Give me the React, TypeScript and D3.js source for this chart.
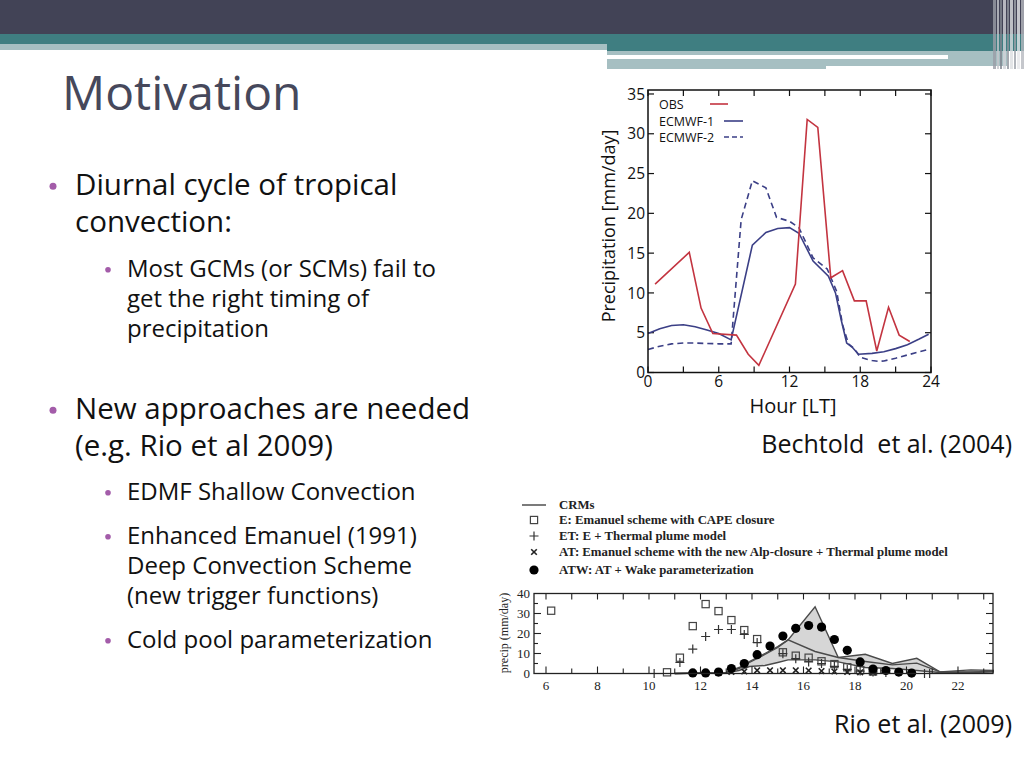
import { useEffect, useRef } from "react";
import * as d3 from "d3";

// --- Bechtold et al. (2004): diurnal precipitation, hour [LT] vs mm/day ---
const obsHours = [0.6, 3.5, 4.5, 5.5, 7.5, 8.5, 9.4, 12.5, 13.5, 14.4, 15.5, 16.5, 17.5, 18.5, 19.4, 20.4, 21.3, 22.2];
const obsPrecip = [11.1, 15.1, 8.1, 4.9, 4.7, 2.3, 0.9, 11.1, 31.8, 30.8, 11.9, 12.8, 9.0, 9.0, 2.7, 8.2, 4.7, 3.9];

const ecmwf1Hours = [0, 1, 2, 3, 4, 5, 6, 7.05, 8.85, 10, 11, 12, 12.8, 14, 15.3, 15.9, 16.4, 16.85, 17.3, 17.85, 19, 20, 21, 22, 23, 23.8];
const ecmwf1Precip = [4.9, 5.5, 5.9, 6.0, 5.75, 5.35, 4.9, 4.1, 16.0, 17.6, 18.1, 18.2, 17.5, 14.0, 12.1, 10.0, 6.5, 3.7, 3.2, 2.3, 2.4, 2.6, 3.0, 3.5, 4.2, 4.8];

const ecmwf2Hours = [0, 1, 2, 3, 4, 5, 6, 7.05, 7.9, 8.85, 10, 10.9, 12, 12.8, 14, 15.2, 16, 16.5, 17, 17.5, 18, 19, 19.5, 20, 21, 22, 23, 23.8];
const ecmwf2Precip = [2.9, 3.3, 3.6, 3.7, 3.7, 3.65, 3.6, 3.6, 19.2, 24.1, 23.2, 19.5, 19.0, 18.2, 14.4, 13.0, 10.2, 6.0, 3.6, 3.0, 1.9, 1.5, 1.4, 1.45, 1.8, 2.2, 2.6, 2.9];

const topXTicks = [0, 6, 12, 18, 24];
const topXMinor = [3, 9, 15, 21];
const topYTicks = [0, 5, 10, 15, 20, 25, 30, 35];
const topLegend = ["OBS", "ECMWF-1", "ECMWF-2"];

// --- Rio et al. (2009): precip (mm/day) vs hour ---
const crmHours = [11, 13, 13.5, 13.9, 14.5, 15, 15.4, 16.45, 17.35, 18.4, 19.45, 20.4, 21.3, 22.5, 23.4];
const crmUpper = [0, 0.5, 3, 6, 10, 13.5, 16.8, 33.4, 8, 9.6, 5, 7.6, 0.8, 1.8, 1.5];
const crmMiddle = [0, 0.5, 2.5, 5.5, 9.5, 13, 16.8, 11, 8, 6, 4.3, 5.2, 0.8, 0.8, 1];
const crmLower = [0, 0.3, 1.5, 3.5, 4, 5.5, 6.8, 6.8, 5.8, 3, 2.5, 1.5, 0.5, 0.5, 0.8];

const eHours = [6.2, 10.7, 11.2, 11.7, 12.2, 12.7, 13.2, 13.7, 14.2, 15.2, 15.7, 16.2, 16.7, 17.2, 17.7, 18.2, 18.7];
const ePrecip = [31.4, 0.6, 7.9, 23.7, 34.7, 31.2, 26.7, 21.7, 17.2, 10.6, 8.9, 7.9, 6.1, 4.7, 3.1, 1.7, 1.0];

const etHours = [10.2, 11.2, 11.7, 12.2, 12.7, 13.2, 13.7, 14.2, 15.2, 15.7, 16.2, 16.7, 17.2, 17.7, 18.2, 18.7, 19.2, 20.7, 20.9];
const etPrecip = [0, 5.5, 12.2, 18.5, 22, 22, 19.5, 15.5, 9.9, 7.4, 5.8, 5, 3.6, 2.1, 1.2, 0.8, 0.5, 0, 0];

const atHours = [12.7, 13.2, 13.7, 14.2, 14.7, 15.2, 15.7, 16.2, 16.7, 17.2, 17.7, 18.2, 18.7];
const atPrecip = [0.3, 0.8, 1.0, 1.6, 1.6, 1.6, 1.6, 1.5, 1.2, 1.0, 0.8, 0.6, 0.5];

const atwHours = [11.7, 12.2, 12.7, 13.2, 13.7, 14.2, 14.7, 15.2, 15.7, 16.2, 16.7, 17.2, 17.7, 18.2, 18.7, 19.2, 19.7, 20.2];
const atwPrecip = [0.3, 0.3, 0.7, 2.5, 5, 9.4, 13.7, 18.7, 22.6, 24, 23.2, 17, 11.6, 5.8, 2.2, 1.5, 0.7, 0.2];

const bottomXTicks = [6, 8, 10, 12, 14, 16, 18, 20, 22];
const bottomYTicks = [0, 10, 20, 30, 40];
const bottomLegend = [
  "CRMs",
  "E: Emanuel scheme with CAPE closure",
  "ET: E + Thermal plume model",
  "AT: Emanuel scheme with the new Alp-closure + Thermal plume model",
  "ATW: AT + Wake parameterization",
];

// --- slide text ---
const bullets: { text: string[]; level: number }[] = [
  { text: ["Diurnal cycle of tropical", "convection:"], level: 1 },
  { text: ["Most GCMs (or SCMs) fail to", "get the right timing of", "precipitation"], level: 2 },
  { text: ["New approaches are needed", "(e.g. Rio et al 2009)"], level: 1 },
  { text: ["EDMF Shallow Convection"], level: 2 },
  { text: ["Enhanced Emanuel (1991)", "Deep Convection Scheme", "(new trigger functions)"], level: 2 },
  { text: ["Cold pool parameterization"], level: 2 },
];
const bulletTops = [195, 277, 419, 500, 544, 648];

const SANS = "'Open Sans', 'DejaVu Sans', sans-serif";
const SERIF = "'Liberation Serif', 'DejaVu Serif', serif";

export default function App() {
  const svgRef = useRef<SVGSVGElement>(null);

  useEffect(() => {
    const svg = d3.select(svgRef.current);
    svg.selectAll("*").remove();

    svg.append("rect").attr("width", 1024).attr("height", 768).attr("fill", "#ffffff");

    // header bands
    const dark = "#424356";
    const teal = "#3f7e81";
    const pale = "#a6bfc2";
    const hdr = svg.append("g");
    hdr.append("rect").attr("x", 0).attr("y", 0).attr("width", 1024).attr("height", 34).attr("fill", dark);
    hdr.append("rect").attr("x", 0).attr("y", 34).attr("width", 1024).attr("height", 10).attr("fill", teal);
    hdr.append("rect").attr("x", 0).attr("y", 44).attr("width", 607).attr("height", 6).attr("fill", pale);
    hdr.append("rect").attr("x", 607).attr("y", 44).attr("width", 417).attr("height", 7).attr("fill", teal);
    hdr.append("rect").attr("x", 607).attr("y", 51).attr("width", 400).attr("height", 4).attr("fill", pale);
    hdr.append("rect").attr("x", 948).attr("y", 55).attr("width", 59).attr("height", 4).attr("fill", pale);
    hdr.append("rect").attr("x", 607).attr("y", 59).attr("width", 219).attr("height", 10).attr("fill", pale);
    hdr.append("rect").attr("x", 826).attr("y", 59).attr("width", 181).attr("height", 7).attr("fill", pale);
    const stripes = [
      [993, 3, "#9a9ea6"], [997, 2, "#c4c7cc"], [1000, 2, "#80858f"], [1003, 3, "#d3d5d9"],
      [1007, 2, "#8e939c"], [1010, 3, "#dcdee1"], [1014, 2, "#9ea2aa"], [1017, 3, "#e6e7ea"],
      [1021, 3, "#b6b9bf"],
    ] as const;
    stripes.forEach(([x, w, c]) => {
      hdr.append("rect").attr("x", x).attr("y", 0).attr("width", w).attr("height", 69).attr("fill", c).attr("opacity", 0.8);
    });

    // title
    svg.append("text").attr("x", 62).attr("y", 110)
      .attr("font-family", SANS).attr("font-size", 48).attr("fill", "#46485b")
      .text("Motivation");

    // bullets
    bullets.forEach((b, i) => {
      const fs = b.level === 1 ? 29.5 : 24;
      const lh = b.level === 1 ? 37 : 30;
      const tx = b.level === 1 ? 75 : 127;
      const bx = b.level === 1 ? 53 : 108;
      const y0 = bulletTops[i];
      svg.append("circle").attr("cx", bx).attr("cy", y0 - fs * 0.3)
        .attr("r", b.level === 1 ? 3.5 : 2.8).attr("fill", "#a35ca9");
      b.text.forEach((line, j) => {
        svg.append("text").attr("x", tx).attr("y", y0 + j * lh)
          .attr("font-family", SANS).attr("font-size", fs).attr("fill", "#111111")
          .text(line);
      });
    });

    // captions
    svg.append("text").attr("x", 1012).attr("y", 453).attr("text-anchor", "end")
      .attr("font-family", SANS).attr("font-size", 25).attr("fill", "#111").attr("xml:space", "preserve")
      .text("Bechtold  et al. (2004)");
    svg.append("text").attr("x", 1012).attr("y", 733).attr("text-anchor", "end")
      .attr("font-family", SANS).attr("font-size", 25).attr("fill", "#111")
      .text("Rio et al. (2009)");

    // ===== top chart =====
    const tx = d3.scaleLinear().domain([0, 24]).range([648, 931]);
    const ty = d3.scaleLinear().domain([0, 35.5]).range([372.5, 90]);
    const top = svg.append("g");

    const tickLen = 6;
    topYTicks.forEach((v) => {
      top.append("line").attr("x1", tx(0)).attr("x2", tx(0) + tickLen).attr("y1", ty(v)).attr("y2", ty(v))
        .attr("stroke", "#111").attr("stroke-width", 1.2);
      top.append("line").attr("x1", tx(24)).attr("x2", tx(24) - tickLen).attr("y1", ty(v)).attr("y2", ty(v))
        .attr("stroke", "#111").attr("stroke-width", 1.2);
      top.append("text").attr("x", tx(0) - 3).attr("y", ty(v)).attr("dy", "0.36em")
        .attr("text-anchor", "end").attr("font-family", SANS).attr("font-size", 15.5).attr("fill", "#111")
        .text(v);
    });
    [...topXTicks, ...topXMinor].forEach((h) => {
      top.append("line").attr("x1", tx(h)).attr("x2", tx(h)).attr("y1", ty(0)).attr("y2", ty(0) - tickLen)
        .attr("stroke", "#111").attr("stroke-width", 1.2);
      top.append("line").attr("x1", tx(h)).attr("x2", tx(h)).attr("y1", 90).attr("y2", 90 + tickLen)
        .attr("stroke", "#111").attr("stroke-width", 1.2);
    });
    topXTicks.forEach((h) => {
      top.append("text").attr("x", tx(h)).attr("y", 387).attr("text-anchor", "middle")
        .attr("font-family", SANS).attr("font-size", 15.5).attr("fill", "#111").text(h);
    });

    const lineOf = (hours: number[], vals: number[]) =>
      d3.line<number>().x((_, i) => tx(hours[i])).y((d) => ty(d))(vals);

    top.append("path").attr("d", lineOf(ecmwf2Hours, ecmwf2Precip)).attr("fill", "none")
      .attr("stroke", "#3b3f86").attr("stroke-width", 1.6).attr("stroke-dasharray", "6,4");
    top.append("path").attr("d", lineOf(ecmwf1Hours, ecmwf1Precip)).attr("fill", "none")
      .attr("stroke", "#3b3f86").attr("stroke-width", 1.6);
    top.append("path").attr("d", lineOf(obsHours, obsPrecip)).attr("fill", "none")
      .attr("stroke", "#c33440").attr("stroke-width", 1.6);

    top.append("rect").attr("x", tx(0)).attr("y", 90).attr("width", tx(24) - tx(0)).attr("height", ty(0) - 90)
      .attr("fill", "none").attr("stroke", "#111").attr("stroke-width", 1.5);

    // legend
    const legY = [104, 121, 137];
    const legStyle = [
      { c: "#c33440", d: null, x1: 710, x2: 728 },
      { c: "#3b3f86", d: null, x1: 724, x2: 743 },
      { c: "#3b3f86", d: "5,3", x1: 724, x2: 743 },
    ];
    topLegend.forEach((name, i) => {
      top.append("text").attr("x", 659).attr("y", legY[i]).attr("dy", "0.36em")
        .attr("font-family", SANS).attr("font-size", 12.5).attr("fill", "#111").text(name);
      top.append("line").attr("x1", legStyle[i].x1).attr("x2", legStyle[i].x2)
        .attr("y1", legY[i]).attr("y2", legY[i]).attr("stroke", legStyle[i].c).attr("stroke-width", 1.6)
        .attr("stroke-dasharray", legStyle[i].d);
    });

    top.append("text").attr("transform", "translate(615,226) rotate(-90)").attr("text-anchor", "middle")
      .attr("font-family", SANS).attr("font-size", 18).attr("fill", "#111").text("Precipitation [mm/day]");
    top.append("text").attr("x", 793).attr("y", 413).attr("text-anchor", "middle")
      .attr("font-family", SANS).attr("font-size", 20).attr("fill", "#111").text("Hour [LT]");

    // ===== bottom chart =====
    const bx = d3.scaleLinear().domain([5.534, 23.36]).range([534, 993]);
    const by = d3.scaleLinear().domain([0, 40]).range([673.5, 593.5]);
    const bot = svg.append("g");

    const crmLines = [crmUpper, crmMiddle, crmLower];
    const area = d3.area<number>()
      .x((_, i) => bx(crmHours[i]))
      .y0((_, i) => by(Math.min(...crmLines.map((l) => l[i]))))
      .y1((_, i) => by(Math.max(...crmLines.map((l) => l[i]))));
    bot.append("path").attr("d", area(crmHours)).attr("fill", "#d6d6d6");
    crmLines.forEach((vals) => {
      bot.append("path")
        .attr("d", d3.line<number>().x((_, i) => bx(crmHours[i])).y((d) => by(d))(vals))
        .attr("fill", "none").attr("stroke", "#4a4a4a").attr("stroke-width", 1.4);
    });

    // ticks
    for (let h = 6; h <= 23; h++) {
      const len = h % 2 === 0 ? 7 : 5;
      bot.append("line").attr("x1", bx(h)).attr("x2", bx(h)).attr("y1", by(0)).attr("y2", by(0) - len)
        .attr("stroke", "#222").attr("stroke-width", 1.1);
      bot.append("line").attr("x1", bx(h)).attr("x2", bx(h)).attr("y1", by(40)).attr("y2", by(40) + 6)
        .attr("stroke", "#222").attr("stroke-width", 1.1);
    }
    for (let v = 5; v < 40; v += 5) {
      const len = v % 10 === 0 ? 7 : 4;
      bot.append("line").attr("x1", bx.range()[0]).attr("x2", bx.range()[0] + len).attr("y1", by(v)).attr("y2", by(v))
        .attr("stroke", "#222").attr("stroke-width", 1.1);
      bot.append("line").attr("x1", bx.range()[1]).attr("x2", bx.range()[1] - len).attr("y1", by(v)).attr("y2", by(v))
        .attr("stroke", "#222").attr("stroke-width", 1.1);
    }
    bottomYTicks.forEach((v) => {
      bot.append("text").attr("x", 530).attr("y", by(v)).attr("dy", "0.35em").attr("text-anchor", "end")
        .attr("font-family", SERIF).attr("font-size", 13).attr("fill", "#222").text(v);
    });
    bottomXTicks.forEach((h) => {
      bot.append("text").attr("x", bx(h)).attr("y", 690).attr("text-anchor", "middle")
        .attr("font-family", SERIF).attr("font-size", 13).attr("fill", "#222").text(h);
    });
    bot.append("text").attr("transform", "translate(508,633) rotate(-90)").attr("text-anchor", "middle")
      .attr("font-family", SERIF).attr("font-size", 12).attr("fill", "#222").text("precip (mm/day)");

    // markers
    const sq = (g: any, x: number, y: number) =>
      g.append("rect").attr("x", x - 3.6).attr("y", y - 3.6).attr("width", 7.2).attr("height", 7.2)
        .attr("fill", "none").attr("stroke", "#444").attr("stroke-width", 1.2);
    const plus = (g: any, x: number, y: number) =>
      g.append("path").attr("d", `M${x - 4.5},${y}H${x + 4.5}M${x},${y - 4.5}V${y + 4.5}`)
        .attr("stroke", "#333").attr("stroke-width", 1.2);
    const cross = (g: any, x: number, y: number) =>
      g.append("path").attr("d", `M${x - 2.8},${y - 2.8}L${x + 2.8},${y + 2.8}M${x - 2.8},${y + 2.8}L${x + 2.8},${y - 2.8}`)
        .attr("stroke", "#222").attr("stroke-width", 1.6);
    const dot = (g: any, x: number, y: number) =>
      g.append("circle").attr("cx", x).attr("cy", y).attr("r", 4.6).attr("fill", "#000");

    eHours.forEach((h, i) => sq(bot, bx(h), by(ePrecip[i])));
    etHours.forEach((h, i) => plus(bot, bx(h), by(etPrecip[i])));
    atHours.forEach((h, i) => cross(bot, bx(h), by(atPrecip[i])));
    atwHours.forEach((h, i) => dot(bot, bx(h), by(atwPrecip[i])));

    bot.append("rect").attr("x", bx.range()[0]).attr("y", by(40)).attr("width", bx.range()[1] - bx.range()[0])
      .attr("height", by(0) - by(40)).attr("fill", "none").attr("stroke", "#222").attr("stroke-width", 1.3);

    // bottom legend
    const legYs = [505, 520, 536, 552, 570];
    const legX = 534;
    bot.append("line").attr("x1", 522).attr("x2", 546).attr("y1", legYs[0]).attr("y2", legYs[0])
      .attr("stroke", "#333").attr("stroke-width", 1.3);
    sq(bot, legX, legYs[1]);
    plus(bot, legX, legYs[2]);
    cross(bot, legX, legYs[3]);
    dot(bot, legX, legYs[4]);
    bottomLegend.forEach((name, i) => {
      bot.append("text").attr("x", 559).attr("y", legYs[i]).attr("dy", "0.35em")
        .attr("font-family", SERIF).attr("font-weight", "bold").attr("font-size", 12.8).attr("fill", "#222")
        .text(name);
    });
  }, []);

  return (
    <svg
      ref={svgRef}
      width={1024}
      height={768}
      style={{ position: "absolute", left: 0, top: 0, display: "block" }}
    ></svg>
  );
}
